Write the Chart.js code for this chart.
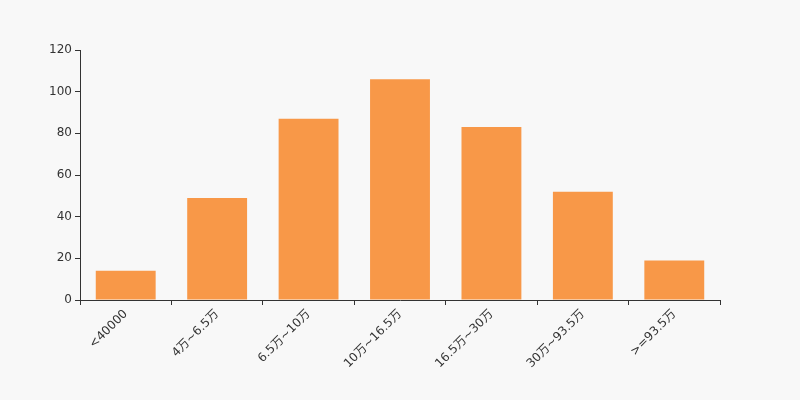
<!DOCTYPE html>
<html>
<head>
<meta charset="utf-8">
<script src="https://cdn.jsdelivr.net/npm/chart.js@4/dist/chart.umd.min.js"></script>
<style>
html,body{margin:0;padding:0;background:#f8f8f8;}
#wrap{width:800px;height:400px;position:relative;}
</style>
</head>
<body>
<div id="wrap"><canvas id="c" width="800" height="400"></canvas></div>
<script>
const categories = ['<40000','4万~6.5万','6.5万~10万','10万~16.5万','16.5万~30万','30万~93.5万','>=93.5万'];
const values = [14, 49, 87, 106, 83, 52, 19];
const yTicks = [0, 20, 40, 60, 80, 100, 120];

Chart.defaults.font.family = '"DejaVu Sans", "Noto Sans CJK SC", sans-serif';
Chart.defaults.font.size = 12;
Chart.defaults.color = '#333';

new Chart(document.getElementById('c'), {
  type: 'bar',
  data: {
    labels: categories,
    datasets: [{
      data: values,
      backgroundColor: '#f89848',
      borderWidth: 0,
      barPercentage: 0.655,
      categoryPercentage: 1
    }]
  },
  options: {
    responsive: false,
    animation: false,
    layout: { padding: { left: 0, right: 80, top: 50, bottom: 0 } },
    plugins: { legend: { display: false }, tooltip: { enabled: false } },
    scales: {
      x: {
        grid: { display: true, drawOnChartArea: false, tickLength: 5, color: '#333', offset: true },
        border: { color: '#333', width: 1 },
        ticks: { minRotation: 45, maxRotation: 45, autoSkip: false, padding: 2, color: '#333' },
        afterFit: s => { s.height = 100; }
      },
      y: {
        min: 0, max: 120,
        afterBuildTicks: s => { s.ticks = yTicks.map(v => ({ value: v })); },
        grid: { display: true, drawOnChartArea: false, tickLength: 5, color: '#333' },
        border: { color: '#333', width: 1 },
        ticks: { padding: 3, color: '#333' },
        afterFit: s => { s.width = 80; }
      }
    }
  }
});
</script>
</body>
</html>
